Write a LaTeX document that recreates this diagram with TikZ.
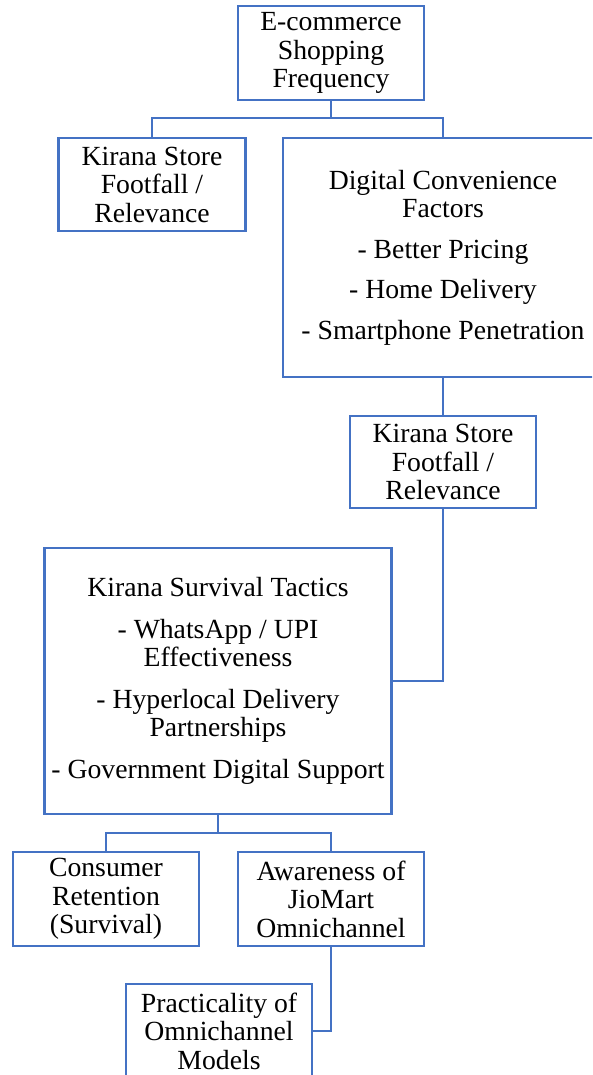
\documentclass[tikz,border=0pt]{standalone}
\usepackage{fontspec}
\setmainfont{Liberation Serif}
\definecolor{boxblue}{HTML}{4472C4}
\begin{document}
\begin{tikzpicture}[x=1pt,y=1pt,
  box/.style={draw=boxblue, line width=2.2pt, fill=white, align=center,
    inner sep=0pt, font=\fontsize{27.7}{28.5}\selectfont},
  link/.style={draw=boxblue, line width=2.2pt}]
\useasboundingbox (0,0) rectangle (592,-1075);
\clip (0,0) rectangle (592,-1075);

% boxes
\node[box, minimum width=186pt, minimum height=94pt] (ecom) at (331,-53)
  {E-commerce\\Shopping\\Frequency};
\node[box, minimum width=187pt, minimum height=93pt] (kiraA) at (152,-184.5)
  {Kirana Store\\Footfall /\\Relevance};
\node[box, minimum width=320pt, minimum height=239pt] (digi) at (443,-257.5)
  {Digital Convenience\\Factors\\[12pt]- Better Pricing\\[12pt]- Home Delivery\\[12pt]- Smartphone Penetration};
\node[box, minimum width=186pt, minimum height=92pt] (kiraB) at (443,-462)
  {Kirana Store\\Footfall /\\Relevance};
\node[box, minimum width=347pt, minimum height=266pt] (surv) at (218,-681)
  {Kirana Survival Tactics\\[13pt]- WhatsApp / UPI\\Effectiveness\\[13pt]- Hyperlocal Delivery\\Partnerships\\[13pt]- Government Digital Support};
\node[box, minimum width=186pt, minimum height=94pt] (cons) at (106,-899)
  {Consumer\\Retention\\(Survival)};
\node[box, minimum width=186pt, minimum height=94pt] (aware) at (331,-899)
  {Awareness of\\JioMart\\Omnichannel};
\node[box, minimum width=186pt, minimum height=94pt] (prac) at (219,-1031)
  {Practicality of\\Omnichannel\\Models};

% connectors
\coordinate (j1) at (331,-118);
\coordinate (j2) at (218,-833);
\draw[link] (ecom.south) -- (j1);
\draw[link] (kiraA.north) |- (j1) -| (digi.north);
\draw[link] (digi.south) -- (kiraB.north);
\draw[link] (kiraB.south) |- (surv.east);
\draw[link] (surv.south) -- (j2);
\draw[link] (cons.north) |- (j2) -| (aware.north);
\draw[link] (aware.south) |- (prac.east);
\end{tikzpicture}
\end{document}
